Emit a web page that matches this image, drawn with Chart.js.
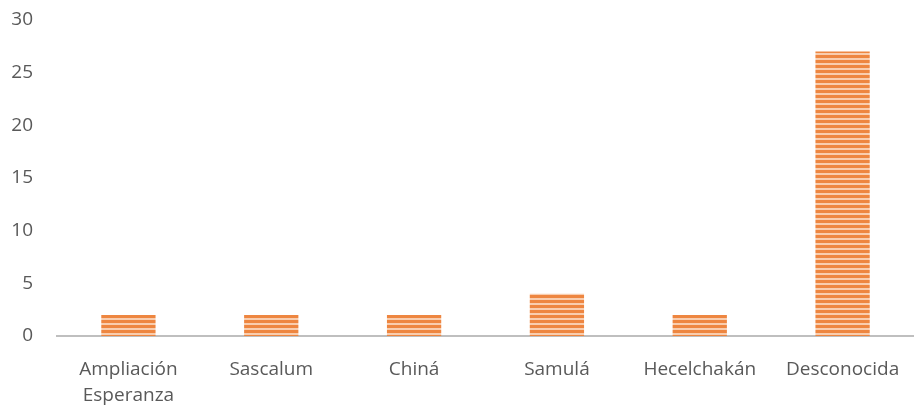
<!DOCTYPE html>
<html>
<head>
<meta charset="utf-8">
<script src="https://cdn.jsdelivr.net/npm/chart.js@4"></script>
<style>
  html, body { margin: 0; padding: 0; background: #fff; }
  #wrap { width: 914px; height: 408px; }
</style>
</head>
<body>
<div id="wrap"><canvas id="c"></canvas></div>
<script>
// data
const categories = [['Ampliación', 'Esperanza'], 'Sascalum', 'Chiná', 'Samulá', 'Hecelchakán', 'Desconocida'];
const values = [2, 2, 2, 4, 2, 27];
const yTicks = [0, 5, 10, 15, 20, 25, 30];

// striped orange fill like the original bars
function stripes() {
    const p = document.createElement('canvas');
    p.width = 6; p.height = 5;
    const g = p.getContext('2d');
    g.fillStyle = '#EE8640';
    g.fillRect(0, 0, 6, 5);
    g.fillStyle = '#F9CDAE';
    g.fillRect(0, 3, 6, 2);
    return g.createPattern(p, 'repeat');
}

const ctx = document.getElementById('c').getContext('2d');
new Chart(ctx, {
    type: 'bar',
    data: {
        labels: categories,
        datasets: [{
            data: values,
            backgroundColor: stripes(),
            borderWidth: 0,
            categoryPercentage: 1,
            barPercentage: 0.38
        }]
    },
    options: {
        responsive: true,
        maintainAspectRatio: false,
        animation: false,
        layout: { padding: 0 },
        plugins: { legend: { display: false }, tooltip: { enabled: false } },
        scales: {
            x: {
                afterFit: (s) => { s.height = 72; s.paddingLeft = 0; s.paddingRight = 0; },
                grid: { display: false, drawTicks: false },
                border: { color: '#BFBFBF', width: 2 },
                ticks: {
                    color: '#595959',
                    font: { family: 'Open Sans', size: 19, lineHeight: 1.35 },
                    padding: 21,
                    maxRotation: 0,
                    autoSkip: false
                }
            },
            y: {
                min: 0, max: 30,
                afterBuildTicks: (s) => { s.ticks = yTicks.map(v => ({ value: v })); },
                afterFit: (s) => { s.width = 57; s.paddingTop = 20; },
                grid: { display: false, drawTicks: false },
                border: { display: false },
                ticks: {
                    color: '#595959',
                    font: { family: 'Open Sans', size: 19 },
                    padding: 24
                }
            }
        }
    }
});
</script>
</body>
</html>
